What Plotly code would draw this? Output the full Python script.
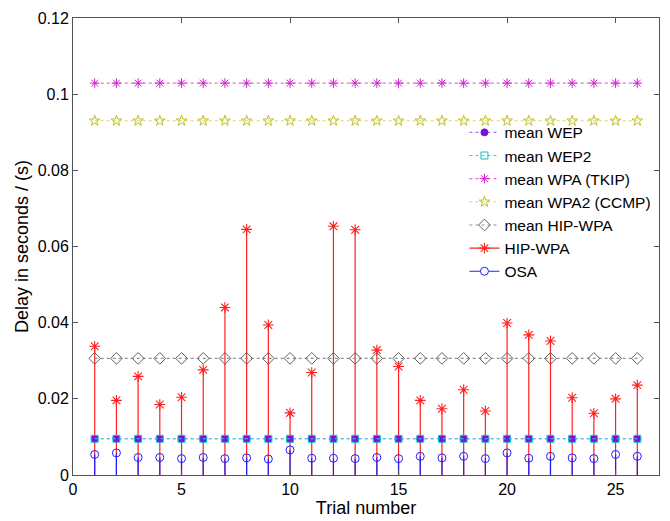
import plotly.graph_objects as go

trials = list(range(1, 27))
hip_wpa = [0.0338, 0.0196, 0.0259, 0.0185, 0.0204, 0.0276, 0.0440, 0.0645, 0.0394, 0.0163,
           0.0269, 0.0653, 0.0644, 0.0328, 0.0285, 0.0196, 0.0174, 0.0224, 0.0168, 0.0399,
           0.0368, 0.0352, 0.0203, 0.0162, 0.0200, 0.0236]
osa = [0.0054, 0.0058, 0.0046, 0.0046, 0.0043, 0.0046, 0.0043, 0.0045, 0.0042, 0.0066,
       0.0044, 0.0044, 0.0043, 0.0046, 0.0043, 0.0049, 0.0045, 0.0049, 0.0043, 0.0058,
       0.0044, 0.0049, 0.0045, 0.0043, 0.0054, 0.0049]
mean_wep = 0.0095
mean_wep2 = 0.0095
mean_tkip = 0.1029
mean_ccmp = 0.0930
mean_hip = sum(hip_wpa) / len(hip_wpa)

x_ticks = [0, 5, 10, 15, 20, 25]
y_ticks = [0, 0.02, 0.04, 0.06, 0.08, 0.1, 0.12]
y_tick_labels = ["0", "0.02", "0.04", "0.06", "0.08", "0.1", "0.12"]

RED = "#ff2020"
BLUE = "#2020ff"
FONT = "Liberation Sans, Arial"


def stem_xy(xs, ys):
    sx, sy = [], []
    for a, b in zip(xs, ys):
        sx += [a, a, None]
        sy += [0, b, None]
    return sx, sy


fig = go.Figure()

sx, sy = stem_xy(trials, hip_wpa)
fig.add_trace(go.Scatter(x=sx, y=sy, mode="lines", line=dict(color=RED, width=1.2),
                         showlegend=False, hoverinfo="skip"))
fig.add_trace(go.Scatter(x=trials, y=hip_wpa, mode="markers",
                         marker=dict(symbol="asterisk-open", size=9, color=RED,
                                     line=dict(color=RED, width=1.1)),
                         showlegend=False))
sx, sy = stem_xy(trials, osa)
fig.add_trace(go.Scatter(x=sx, y=sy, mode="lines", line=dict(color=BLUE, width=1.2),
                         showlegend=False, hoverinfo="skip"))
fig.add_trace(go.Scatter(x=trials, y=osa, mode="markers",
                         marker=dict(symbol="circle", size=8, color="rgba(255,255,255,0)",
                                     line=dict(color=BLUE, width=1)),
                         showlegend=False))

means = [
    ("mean WEP", mean_wep, "#7a10e0", "circle", 7, "#7a10e0"),
    ("mean WEP2", mean_wep2, "#10c0c0", "square-open", 7, None),
    ("mean WPA (TKIP)", mean_tkip, "#d020d0", "asterisk-open", 8, None),
    ("mean WPA2 (CCMP)", mean_ccmp, "#c0c020", "star-open", 8, None),
    ("mean HIP-WPA", mean_hip, "#606060", "diamond-open", 9, None),
]
line_colors = {"mean WEP": "#b070f0", "mean WEP2": "#40d0d0", "mean WPA (TKIP)": "#e070e0",
               "mean WPA2 (CCMP)": "#d8d860", "mean HIP-WPA": "#909090"}
for name, val, col, sym, size, fill in means:
    fig.add_trace(go.Scatter(
        x=trials, y=[val] * len(trials), mode="lines+markers", name=name,
        line=dict(color=line_colors[name], width=1.1, dash="dot"),
        marker=dict(symbol=sym, size=size, color=fill if fill else col,
                    line=dict(color=col, width=1)),
    ))

fig.add_trace(go.Scatter(x=[None], y=[None], mode="lines+markers", name="HIP-WPA",
                         line=dict(color=RED, width=1.2),
                         marker=dict(symbol="asterisk-open", size=9, color=RED,
                                     line=dict(color=RED, width=1.1))))
fig.add_trace(go.Scatter(x=[None], y=[None], mode="lines+markers", name="OSA",
                         line=dict(color=BLUE, width=1.2),
                         marker=dict(symbol="circle", size=8, color="white",
                                     line=dict(color=BLUE, width=1))))

axis_common = dict(showline=True, linecolor="#555555", linewidth=1, mirror="ticks",
                   ticks="inside", ticklen=5, tickcolor="#555555", showgrid=False,
                   zeroline=False, tickfont=dict(family=FONT, size=16, color="black"))

fig.update_layout(
    width=670, height=521,
    margin=dict(l=73, r=10, t=14, b=43),
    paper_bgcolor="white", plot_bgcolor="white",
    font=dict(family=FONT, size=16, color="black"),
    xaxis=dict(range=[0, 27], tickvals=x_ticks,
               title=dict(text="Trial number", font=dict(size=18), standoff=0), **axis_common),
    yaxis=dict(range=[0, 0.12], tickvals=y_ticks, ticktext=y_tick_labels,
               title=dict(text="Delay in seconds / (s)", font=dict(size=18), standoff=4), **axis_common),
    legend=dict(x=0.668, y=0.786, xanchor="left", yanchor="top", bgcolor="rgba(255,255,255,0)",
                font=dict(size=15.5), tracegroupgap=0, itemwidth=30),
    showlegend=True,
)

fig.write_html("out.html")
